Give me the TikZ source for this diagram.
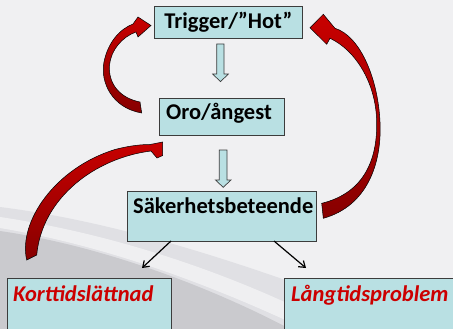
\documentclass[tikz,border=0pt]{standalone}
\usepackage{fontspec}
\setmainfont{Carlito}
\usetikzlibrary{shapes,arrows,arrows.meta,positioning}

\definecolor{boxcyan}{RGB}{185,224,227}
\definecolor{boxline}{RGB}{60,60,60}
\definecolor{arrowred}{RGB}{200,0,0}
\definecolor{arrowdark}{RGB}{135,0,0}
\definecolor{labelred}{RGB}{204,0,0}
\definecolor{bgpale}{RGB}{240,240,242}
\definecolor{bgmid}{RGB}{224,224,228}
\definecolor{bgdark}{RGB}{202,202,206}

\begin{document}
\begin{tikzpicture}[x=1pt,y=-1pt]
		\tikzstyle{Box}		= [rectangle, draw=boxline, fill=boxcyan, line width=0.8pt, anchor=north west, inner sep=0pt]
		\tikzstyle{Txt}		= [font=\fontsize{22.5}{22.5}\selectfont\bfseries, inner sep=0pt, anchor=base west]
		\tikzstyle{RedTxt}	= [Txt, font=\fontsize{22.5}{22.5}\selectfont\bfseries\itshape, text=labelred]
		\tikzstyle{Loop}	= [draw=black, line width=0.5pt, top color=arrowred, bottom color=arrowdark]
		\tikzstyle{Hollow}	= [draw=boxline, fill=boxcyan, line width=0.7pt]
		\tikzstyle{Split}	= [-{Straight Barb[angle=70:7pt]}, line width=1.2pt]

		\useasboundingbox (0,0) rectangle (453,329);
		\clip (0,0) rectangle (453,329);

		% background swoosh
		\fill[bgpale] (0,0) rectangle (453,329);
		\fill[bgmid] (0,207) .. controls (150,226) and (300,285) .. (420,329) -- (0,329) -- cycle;
		\fill[white, opacity=0.5] (0,217) .. controls (140,238) and (260,287) .. (340,329) -- (305,329) .. controls (230,294) and (120,248) .. (0,228) -- cycle;
		\fill[bgdark] (0,231) .. controls (110,247) and (220,292) .. (290,329) -- (0,329) -- cycle;

		% boxes
		\node (trig) at (154,6) [Box, minimum width=148, minimum height=32, font=\fontsize{22.5}{22.5}\selectfont\bfseries] {Trigger/”Hot”};
		\node (oro) at (159,98) [Box, minimum width=125, minimum height=37] {};
		\node (sak) at (127,191) [Box, minimum width=189, minimum height=50] {};
		\node (kort) at (7,278) [Box, minimum width=164, minimum height=70] {};
		\node (lang) at (284,278) [Box, minimum width=180, minimum height=70] {};

		\node (oro-t) at (166,120) [Txt] {Oro/ångest};
		\node (sak-t) at (133,213) [Txt] {Säkerhetsbeteende};
		\node (kort-t) at (13,301) [RedTxt] {Korttidslättnad};
		\node (lang-t) at (291,301) [RedTxt] {Långtidsproblem};

		% hollow down arrows
		\draw [Hollow] (216.7,44) -- (224,44) -- (224,74) -- (228.3,74) -- (220.5,81.7) -- (212.7,74) -- (216.7,74) -- cycle;
		\draw [Hollow] (219.3,150) -- (227,150) -- (227,180) -- (231,180) -- (223.2,187.3) -- (215.5,180) -- (219.3,180) -- cycle;

		% split arrows
		\coordinate (sakL) at (171,241);
		\coordinate (sakR) at (274,241);
		\coordinate (kortIn) at (142,268);
		\coordinate (langIn) at (306,268);
		\draw [Split] (sakL) to (kortIn);
		\draw [Split] (sakR) to (langIn);

		% red loops
		\path [Loop] (141.7,113) .. controls (112,108) and (100,82) .. (104,62)
			.. controls (108,42) and (120,29) .. (133,24) -- (138,17) -- (151,25.5) -- (138,37) -- (136,32)
			.. controls (122,37) and (111,50) .. (109.5,65) .. controls (108,84) and (120,98) .. (140,102) -- cycle;
		\path [Loop] (323.3,218.3) .. controls (368,206) and (382,162) .. (380,122)
			.. controls (378,78) and (360,36) .. (335,28.3) -- (323.3,14.3) -- (310,27.7) -- (326.7,44.3) -- (330,38.3)
			.. controls (355,50) and (376,82) .. (376.7,122) .. controls (377.5,165) and (360,194) .. (321.7,203.3) -- cycle;
		\path [Loop] (26.7,260) .. controls (18,222) and (55,168) .. (115,149.5)
			.. controls (130,145.5) and (142,144.5) .. (150,144.5) -- (162.7,142) -- (162.7,155.5) -- (157,158) -- (151,151)
			.. controls (95,158) and (42,198) .. (36.7,255) -- cycle;
	\end{tikzpicture}
\end{document}
